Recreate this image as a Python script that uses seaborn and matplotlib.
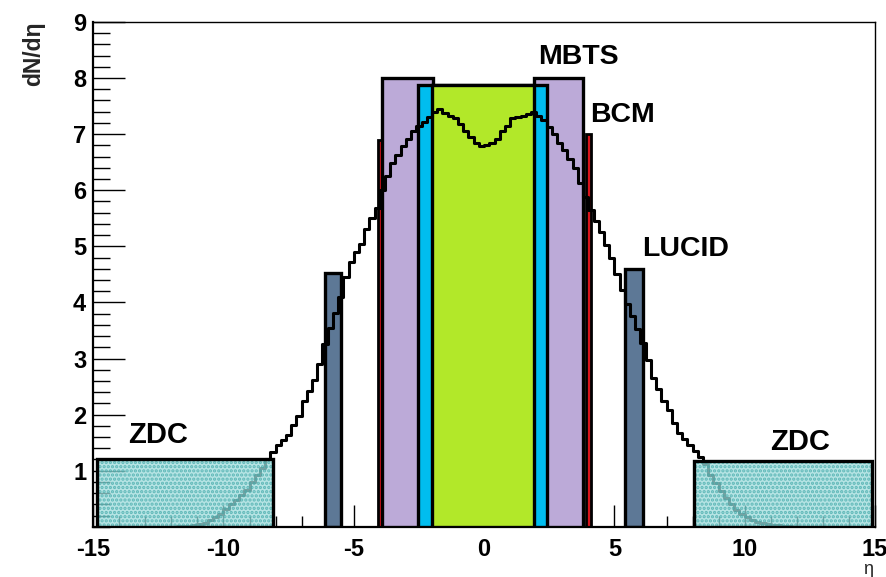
import numpy as np
import pandas as pd
import seaborn as sns
import matplotlib.pyplot as plt

# dN/deta, 0.2 wide bins from -12 to 12
bin_edges = np.linspace(-12, 12, 121)
dndeta = [
    0.00, 0.01, 0.01, 0.02, 0.03, 0.05, 0.07, 0.12, 0.17, 0.22,
    0.31, 0.40, 0.47, 0.56, 0.66, 0.80, 0.92, 1.05, 1.20, 1.33,
    1.45, 1.55, 1.64, 1.82, 1.98, 2.25, 2.42, 2.62, 2.90, 3.25,
    3.55, 3.82, 4.10, 4.45, 4.72, 4.90, 5.05, 5.30, 5.50, 5.68,
    6.00, 6.25, 6.48, 6.62, 6.78, 6.92, 7.05, 7.15, 7.22, 7.30,
    7.40, 7.45, 7.38, 7.33, 7.28, 7.18, 7.05, 6.95, 6.85, 6.78,
    6.80, 6.85, 6.92, 7.05, 7.15, 7.28, 7.30, 7.32, 7.35, 7.40,
    7.32, 7.25, 7.12, 7.00, 6.85, 6.72, 6.55, 6.40, 6.12, 5.88,
    5.65, 5.45, 5.25, 5.02, 4.80, 4.50, 4.22, 3.98, 3.75, 3.52,
    3.28, 2.98, 2.65, 2.45, 2.25, 2.08, 1.85, 1.68, 1.56, 1.45,
    1.35, 1.25, 1.12, 0.92, 0.78, 0.64, 0.52, 0.40, 0.30, 0.23,
    0.17, 0.12, 0.09, 0.07, 0.05, 0.04, 0.03, 0.02, 0.01, 0.00,
]
df = pd.DataFrame({'eta': (bin_edges[:-1] + bin_edges[1:]) / 2,
                   'dndeta': dndeta})

# detector acceptances (eta low, eta high, box height)
zdc_lo, zdc_hi, zdc_h = [-14.86, 8.05], [-8.09, 14.9], [1.2, 1.18]
lucid_lo, lucid_hi, lucid_h = [-6.1, 5.4], [-5.5, 6.1], [4.52, 4.6]
bcm_lo, bcm_hi, bcm_h = [-4.07, 3.92], [-3.88, 4.1], [6.9, 7.0]
mbts_lo, mbts_hi, mbts_h = [-3.9, 1.9], [-1.95, 3.8], [8.0, 8.0]
sct_lo, sct_hi, sct_h = [-2.53], [2.42], [7.88]
pix_lo, pix_hi, pix_h = [-2.0], [1.9], [7.88]

labels = ['MBTS', 'BCM', 'LUCID', 'ZDC', 'ZDC']
label_x = [2.07, 4.07, 6.06, -13.66, 10.97]
label_y = [8.38, 7.34, 4.96, 1.64, 1.51]

sns.set_style('white')
plt.rcParams['font.family'] = ['Liberation Sans', 'DejaVu Sans']
plt.rcParams['axes.unicode_minus'] = False
plt.rcParams['text.color'] = 'black'
plt.rcParams['xtick.color'] = 'black'
plt.rcParams['ytick.color'] = 'black'
plt.rcParams['hatch.linewidth'] = 1.6

fig, ax = plt.subplots(figsize=(8.87, 5.77), dpi=100)
fig.subplots_adjust(left=0.105, right=0.9865, bottom=0.087, top=0.962)


def boxes(lo, hi, h, color, z, lw=2.4, edge='black', hatch=None):
    lo, hi = np.array(lo), np.array(hi)
    ax.bar(lo, h, width=hi - lo, align='edge', color=color,
           edgecolor=edge, linewidth=lw, zorder=z, hatch=hatch)


boxes(lucid_lo, lucid_hi, lucid_h, '#5d7896', 2)
boxes(bcm_lo, bcm_hi, bcm_h, '#d8141c', 2, lw=2.0)
boxes(mbts_lo, mbts_hi, mbts_h, '#bcaad8', 3)
boxes(sct_lo, sct_hi, sct_h, '#00bdef', 4)
boxes(pix_lo, pix_hi, pix_h, '#b2e829', 4.5)

sns.histplot(data=df, x='eta', weights='dndeta', bins=list(bin_edges),
             element='step', fill=False, color='black', linewidth=2.2,
             ax=ax, zorder=5)

# ZDC drawn over the curve, see-through with a dotted texture
boxes(zdc_lo, zdc_hi, zdc_h, (0.62, 0.86, 0.86, 0.75), 6, lw=0, edge='none')
boxes(zdc_lo, zdc_hi, zdc_h, 'none', 6.2, lw=0, edge=(0.25, 0.66, 0.66, 0.75),
      hatch='....')
boxes(zdc_lo, zdc_hi, zdc_h, 'none', 6.4)

for t, x, y in zip(labels, label_x, label_y):
    ax.text(x, y, t, fontsize=21 if t == 'ZDC' else 20.5, fontweight='bold',
            va='center', ha='left', zorder=7)

ax.set_xlim(-15, 15)
ax.set_ylim(0, 9)
ax.set_xticks(range(-15, 16, 5))
ax.set_xticks(range(-15, 16), minor=True)
ax.set_yticks(range(1, 10))
ax.set_yticks(np.arange(0, 9.01, 0.2), minor=True)
ax.tick_params(axis='both', which='both', direction='in', width=1,
               labelsize=17, top=False, right=False, bottom=True, left=True)
ax.tick_params(axis='y', which='major', length=23, pad=5)
ax.tick_params(axis='y', which='minor', length=12)
ax.tick_params(axis='x', which='major', length=16, pad=8)
ax.tick_params(axis='x', which='minor', length=8)
for lab in ax.get_xticklabels() + ax.get_yticklabels():
    lab.set_fontweight('bold')

for s in ax.spines.values():
    s.set_color('black')
    s.set_linewidth(1.0)
ax.spines['left'].set_linewidth(1.6)
ax.spines['bottom'].set_linewidth(1.6)

ax.set_ylabel('dN/dη', fontsize=16.5, fontweight='bold', loc='top')
ax.yaxis.set_label_coords(-0.062, 1.0)
ax.set_xlabel('η', fontsize=13, loc='right')
ax.xaxis.set_label_coords(0.998, -0.068)

plt.savefig('out.png', dpi=100)
